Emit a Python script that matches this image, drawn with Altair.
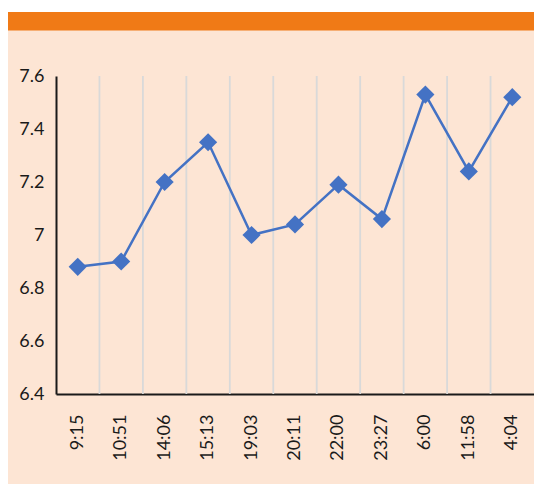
import altair as alt
import pandas as pd

times = ["9:15", "10:51", "14:06", "15:13", "19:03", "20:11", "22:00", "23:27", "6:00", "11:58", "4:04"]
values = [6.88, 6.90, 7.20, 7.35, 7.00, 7.04, 7.19, 7.06, 7.53, 7.24, 7.52]
y_ticks = [6.4, 6.6, 6.8, 7.0, 7.2, 7.4, 7.6]

df = pd.DataFrame({"t": times, "v": values})
grid_df = pd.DataFrame({"t": times[1:]})
one = pd.DataFrame({"a": [0]})

W, H = 478, 318
PEACH = "#FDE5D4"
ORANGE = "#F07A16"
BLUE = "#4472C4"

xscale = alt.Scale(type="band", domain=times, paddingInner=0, paddingOuter=0)
yscale = alt.Scale(domain=[6.4, 7.6], nice=False, zero=False)

x_axis = alt.Axis(labelAngle=270, labelFontSize=18, labelFont="Lato",
                  labelColor="#1a1a1a", ticks=False, grid=False,
                  domainColor="#1a1a1a", domainWidth=2, labelPadding=20)
x_enc = alt.X("t:N", scale=xscale, sort=None, title=None, axis=x_axis)
y_enc = alt.Y("v:Q", scale=yscale, title=None,
              axis=alt.Axis(values=y_ticks, format=".1~f", labelFontSize=18,
                            labelFont="Lato", labelColor="#1a1a1a", ticks=False,
                            grid=False, domainColor="#1a1a1a", domainWidth=2,
                            labelPadding=12))

white_strip = alt.Chart(one).mark_rect(color="white").encode(
    x=alt.value(-48), x2=alt.value(W), y=alt.value(-68), y2=alt.value(-64))
orange_bar = alt.Chart(one).mark_rect(color=ORANGE).encode(
    x=alt.value(-48), x2=alt.value(W), y=alt.value(-64), y2=alt.value(-45.5))

grid = alt.Chart(grid_df).mark_rule(color="#D9D9D9", strokeWidth=1.8).encode(
    x=alt.X("t:N", scale=xscale, sort=None, bandPosition=0, title=None, axis=x_axis),
    y=alt.value(0), y2=alt.value(H))

line = alt.Chart(df).mark_line(color=BLUE, strokeWidth=2.5).encode(x=x_enc, y=y_enc)
pts = alt.Chart(df).mark_point(shape="diamond", filled=True, color=BLUE, size=330,
                               opacity=1).encode(x=x_enc, y=y_enc)

chart = alt.layer(white_strip, orange_bar, grid, line, pts).properties(
    width=W, height=H,
    background=PEACH,
    padding={"left": 48, "top": 68, "right": 0, "bottom": 90},
    autosize=alt.AutoSizeParams(type="none"),
).configure_view(stroke=None)

chart.save("out.html", embed_options={"renderer": "svg", "actions": False})
